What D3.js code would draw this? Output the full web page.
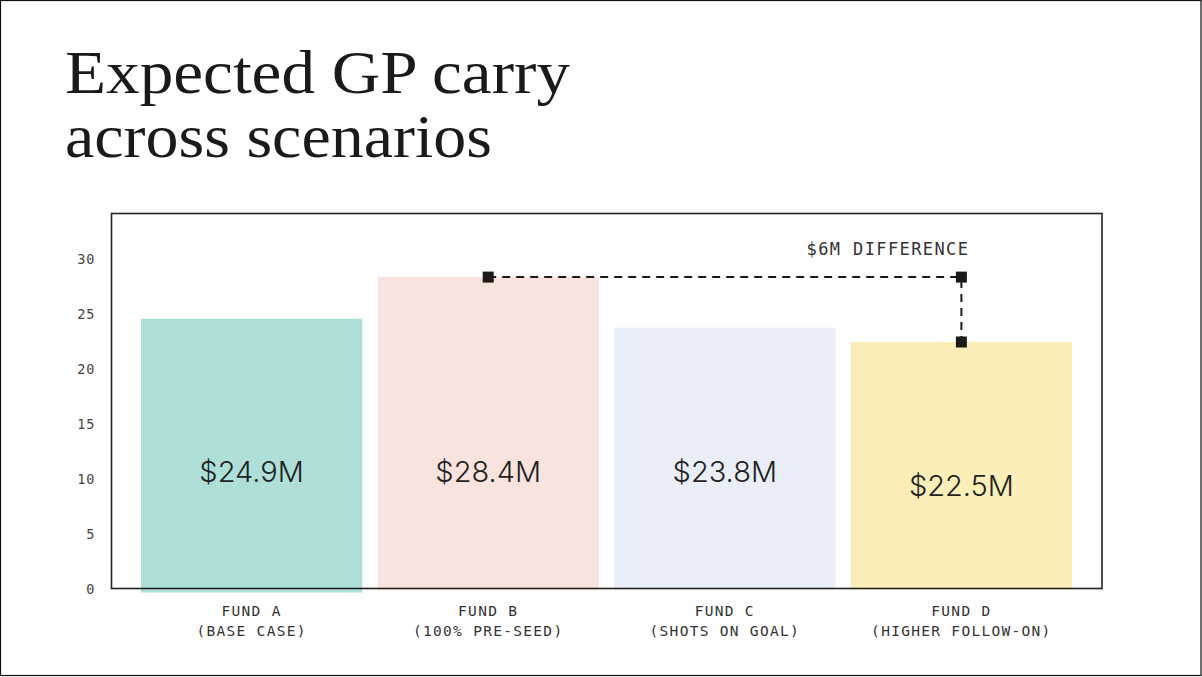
<!DOCTYPE html>
<html><head><meta charset="utf-8">
<script src="https://cdn.jsdelivr.net/npm/d3@7/dist/d3.min.js"></script>
<style>
html,body{margin:0;padding:0;background:#fff;}
svg{display:block;}
</style></head>
<body>
<svg id="c" width="1202" height="677"></svg>
<script>
const titleLines = ["Expected GP carry", "across scenarios"];
const funds = ["FUND A", "FUND B", "FUND C", "FUND D"];
const scenarios = ["(BASE CASE)", "(100% PRE-SEED)", "(SHOTS ON GOAL)", "(HIGHER FOLLOW-ON)"];
const carry = [24.9, 28.4, 23.8, 22.5];
const valueLabels = ["$24.9M", "$28.4M", "$23.8M", "$22.5M"];
const barColors = ["#aee0d9", "#f9e3dd", "#e9eef8", "#fbeeb8"];
const yTicks = [0, 5, 10, 15, 20, 25, 30];
const annotationText = "$6M DIFFERENCE";
const annotationFrom = 1, annotationTo = 3;

const svg = d3.select("#c");
const W = 1202, H = 677;
const mono = "'DejaVu Sans Mono', 'Liberation Mono', monospace";

// outer border
svg.append("rect").attr("x",0.5).attr("y",0.5).attr("width",W-1.5).attr("height",H-2)
  .attr("fill","none").attr("stroke","#111").attr("stroke-width",1.2);

// title
const tg = svg.append("g");
const titleWidths = [505, 427];
titleLines.forEach((t,i)=>{
  tg.append("text").attr("x",65).attr("y",93+i*64)
    .attr("font-family","'Liberation Serif','Times New Roman',serif")
    .attr("font-size",61).attr("fill","#1a1a1a")
    .attr("textLength",titleWidths[i]).attr("lengthAdjust","spacingAndGlyphs")
    .text(t);
});

const frame = {l:111.5, t:213.5, r:1102, b:588.5};
const x = d3.scaleBand().domain(funds).range([141,1072]).paddingInner(0.065).paddingOuter(0);
const y = d3.scaleLinear().domain([0,30]).range([589.5,259.5]);

// bars
const nudge = [3,0,0,0];
const labelShift = [0,0,0,14];
svg.append("g").selectAll("rect").data(funds).join("rect")
  .attr("x",d=>x(d)).attr("width",x.bandwidth())
  .attr("y",(d,i)=>y(carry[i])+nudge[i])
  .attr("height",(d,i)=>y(0)-y(carry[i]))
  .attr("fill",(d,i)=>barColors[i]);

// value labels
svg.append("g").selectAll("text").data(funds).join("text")
  .attr("x",d=>x(d)+x.bandwidth()/2)
  .attr("y",(d,i)=>482+labelShift[i])
  .attr("text-anchor","middle")
  .attr("font-family","Inter, 'Noto Sans', sans-serif").attr("font-weight",300)
  .attr("font-size",29).attr("fill","#222")
  .text((d,i)=>valueLabels[i]);

// frame
svg.append("rect").attr("x",frame.l).attr("y",frame.t)
  .attr("width",frame.r-frame.l).attr("height",frame.b-frame.t)
  .attr("fill","none").attr("stroke","#222").attr("stroke-width",1.6);

// y axis
const yAxis = d3.axisLeft(y).tickValues(yTicks).tickSize(0).tickPadding(16);
const ya = svg.append("g").attr("transform",`translate(${frame.l},0)`).call(yAxis);
ya.select(".domain").remove();
ya.selectAll("text").attr("font-family",mono).attr("font-size",13.5)
  .attr("letter-spacing",1).attr("fill","#444");

// x labels
const xl = svg.append("g");
funds.forEach((f,i)=>{
  const cx = x(f)+x.bandwidth()/2;
  const t = xl.append("text").attr("text-anchor","middle")
    .attr("font-family",mono).attr("font-size",14.5).attr("letter-spacing",1.3).attr("fill","#333");
  t.append("tspan").attr("x",cx).attr("y",616).text(f);
  t.append("tspan").attr("x",cx).attr("y",635.5).text(scenarios[i]);
});

// annotation
const ax1 = x(funds[annotationFrom])+x.bandwidth()/2;
const ax2 = x(funds[annotationTo])+x.bandwidth()/2;
const ay1 = y(carry[annotationFrom]);
const ay2 = y(carry[annotationTo]);
const ag = svg.append("g");
ag.append("path").attr("d",`M${ax1},${ay1}H${ax2}V${ay2}`)
  .attr("fill","none").attr("stroke","#1a1a1a").attr("stroke-width",2)
  .attr("stroke-dasharray","8,6");
[[ax1,ay1],[ax2,ay1],[ax2,ay2]].forEach(p=>{
  ag.append("rect").attr("x",p[0]-5.5).attr("y",p[1]-5.5).attr("width",11).attr("height",11).attr("fill","#1a1a1a");
});
ag.append("text").attr("x",ax2+8).attr("y",255).attr("text-anchor","end")
  .attr("font-family",mono).attr("font-size",17).attr("letter-spacing",1.4).attr("fill","#333")
  .text(annotationText);
</script>
</body></html>
